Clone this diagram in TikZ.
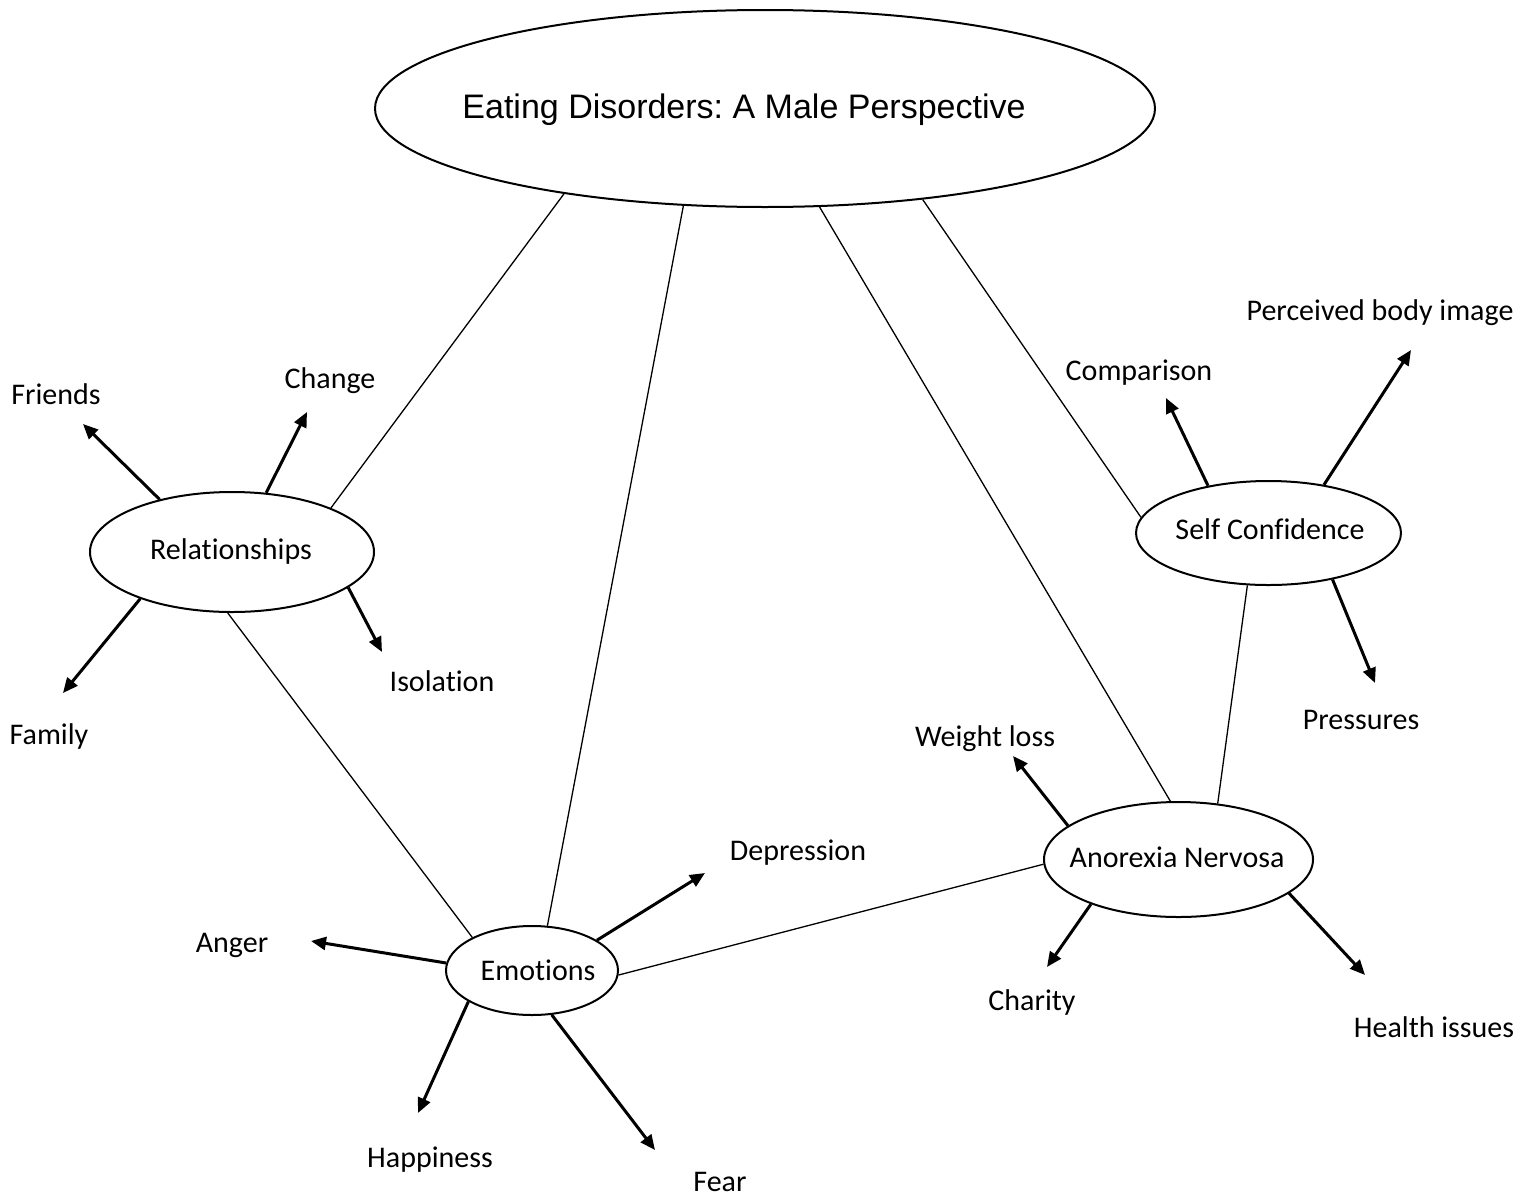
\documentclass[tikz,border=0pt]{standalone}
\usepackage{fontspec}
\setmainfont{Carlito}[Ligatures={NoCommon}]
\newfontfamily\arialf{Liberation Sans}
\usetikzlibrary{arrows.meta,shapes.geometric}
\frenchspacing
\begin{document}
\begin{tikzpicture}[x=1pt,y=-1pt,
  bubble/.style={ellipse,draw,line width=2pt,inner sep=0pt},
  lab/.style={font=\fontsize{30}{36}\selectfont,inner sep=0pt,anchor=base},
  link/.style={line width=1.3pt},
  arr/.style={line width=3pt,-{Triangle[length=15pt,width=13pt]}}]
\useasboundingbox (0,0) rectangle (1520,1197);
\fill[white] (0,0) rectangle (1520,1197);

% ellipses
\node[bubble,minimum width=780pt,minimum height=197pt] (main) at (765,108.5) {};
\node[bubble,minimum width=284pt,minimum height=120pt] (rel) at (232,552) {};
\node[bubble,minimum width=172pt,minimum height=89pt] (emo) at (532,970.5) {};
\node[bubble,minimum width=269pt,minimum height=115pt] (ano) at (1178.5,859.5) {};
\node[bubble,minimum width=265pt,minimum height=104pt] (sc) at (1268.5,533) {};

% ellipse texts
\node[inner sep=0pt,anchor=base,font=\arialf\fontsize{34}{40}\selectfont] (title) at (744,118) {Eating Disorders: A Male Perspective};
\node[lab] (reltxt) at (231,559) {Relationships};
\node[lab] (emotxt) at (538,980) {Emotions};
\node[lab] (anotxt) at (1177,867) {Anorexia Nervosa};
\node[lab] (sctxt) at (1270,539) {Self Confidence};

% leaf labels
\node[lab] (friends) at (56,404) {Friends};
\node[lab] (change) at (330,388) {Change};
\node[lab] (isolation) at (442,691) {Isolation};
\node[lab] (family) at (49,744) {Family};
\node[lab] (anger) at (232,952) {Anger};
\node[lab] (depression) at (798,860) {Depression};
\node[lab] (happiness) at (430,1167) {Happiness};
\node[lab] (fear) at (720,1191) {Fear};
\node[lab] (weight) at (985,746) {Weight loss};
\node[lab] (charity) at (1032,1010) {Charity};
\node[lab] (health) at (1434,1037) {Health issues};
\node[lab] (comparison) at (1139,380) {Comparison};
\node[lab] (perceived) at (1380,320) {Perceived body image};
\node[lab] (pressures) at (1361,729) {Pressures};

% arrow tips
\coordinate (tFriends) at (83,424);
\coordinate (tChange) at (307,412);
\coordinate (tIsolation) at (382,652);
\coordinate (tFamily) at (63,693);
\coordinate (tAnger) at (311,941);
\coordinate (tDepression) at (705,873);
\coordinate (tHappiness) at (418,1113);
\coordinate (tFear) at (655,1150);
\coordinate (tWeight) at (1013,756);
\coordinate (tCharity) at (1047,967);
\coordinate (tHealth) at (1365,975);
\coordinate (tComparison) at (1166,398);
\coordinate (tPerceived) at (1411,350);
\coordinate (tPressures) at (1375,683);

% links
\draw[link] (main.203.9) -- (rel.24.6);
\draw[link] (main.230.9) -- (emo.71.8);
\draw[link] (main.299.4) -- (ano.98.4);
\draw[link] (main.330.2) -- (sc.173.5);
\draw[link] (rel.266) -- (emo.151.6);
\draw[link] (emo.357) -- (ano.182.7);
\draw[link] (sc.248.5) -- (ano.55);

% arrows
\draw[arr] (rel.144.2) -- (tFriends);
\draw[arr] (rel.60.8) -- (tChange);
\draw[arr] (rel.343.7) -- (tIsolation);
\draw[arr] (rel.207.6) -- (tFamily);
\draw[arr] (emo.175.6) -- (tAnger);
\draw[arr] (emo.25.9) -- (tDepression);
\draw[arr] (emo.206.6) -- (tHappiness);
\draw[arr] (emo.294.8) -- (tFear);
\draw[arr] (ano.163.7) -- (tWeight);
\draw[arr] (ano.207.7) -- (tCharity);
\draw[arr] (ano.343.3) -- (tHealth);
\draw[arr] (sc.142) -- (tComparison);
\draw[arr] (sc.41.4) -- (tPerceived);
\draw[arr] (sc.324.7) -- (tPressures);
\end{tikzpicture}
\end{document}
